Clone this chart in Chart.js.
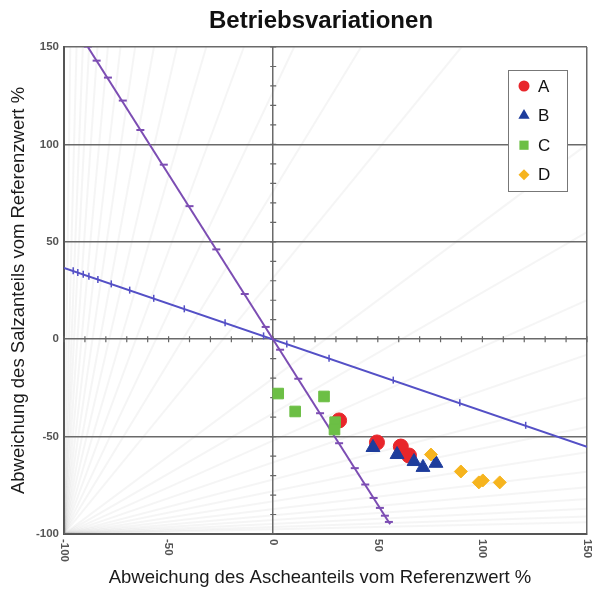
<!DOCTYPE html>
<html>
<head>
<meta charset="utf-8">
<title>Betriebsvariationen</title>
<script src="https://cdn.jsdelivr.net/npm/chart.js@4/dist/chart.umd.min.js"></script>
<style>
  html, body { margin: 0; padding: 0; background: #fff; }
  #wrap { width: 596px; height: 591px; }
</style>
</head>
<body>
<div id="wrap"><canvas id="chart" width="596" height="591"></canvas></div>
<script>
/* Betriebsvariationen - scatter with reference lines */

// series (x = Ascheanteil %, y = Salzanteil %)
const seriesA = [[31.5, -41.7], [49.6, -53.0], [61.0, -55.1], [64.9, -59.7]];
const seriesB = [[47.7, -55.6], [59.2, -59.2], [67.3, -62.8], [71.6, -65.8], [77.8, -63.7]];
const seriesC = [[2.4, -27.9], [24.3, -29.4], [10.5, -37.1], [29.6, -42.6], [29.3, -46.4]];
const seriesD = [[75.4, -59.2], [89.7, -67.9], [98.3, -73.5], [100.2, -72.5], [108.3, -73.5]];

// steep reference line (ends + tick marks)
const steepEnds = [[-88.6, 150], [55.9, -95]];
const steepTicks = [[-88.6, 150.2], [-84.4, 143.0], [-79.0, 134.3], [-71.9, 122.5], [-63.5, 107.4],
  [-52.3, 89.6], [-40.0, 68.3], [-27.2, 46.1], [-13.6, 23.2], [-3.6, 6.3], [3.3, -5.4],
  [12.0, -20.3], [22.4, -38.0], [31.5, -53.4], [39.0, -66.2], [44.0, -74.6], [48.0, -81.5],
  [51.0, -86.6], [53.4, -90.6], [55.3, -93.8]];

// flat reference line (ends + tick marks)
const flatEnds = [[-100, 36.6], [150, -55.2]];
const flatTicks = [[-95.6, 35.1], [-93.4, 34.3], [-90.8, 33.3], [-88.1, 32.3], [-83.8, 30.7],
  [-77.4, 28.4], [-68.6, 25.2], [-57.1, 21.0], [-42.5, 15.6], [-23.0, 8.5], [-4.6, 1.7],
  [6.5, -2.4], [26.7, -9.8], [57.4, -21.0], [89.2, -32.6], [120.7, -44.2]];

// faint background fan from the lower left corner
const fanOrigin = [-100, -100];
const fanTopX = [-97, -94, -91, -88, -84, -79, -73, -66, -57, -46, -32, -14, 10, 42, 90];
const fanRightY = [100, 55, 20, -8, -30, -45, -58, -68, -76, -82, -87, -91, -94];

const axisTickValues = [-100, -90, -80, -70, -60, -50, -40, -30, -20, -10, 0, 10, 20, 30, 40, 50, 60, 70, 80, 90, 100, 110, 120, 130, 140, 150];
const xTickLabels = [-100, -50, 0, 50, 100, 150];

const FONT = '"Liberation Sans", Arial, sans-serif';
const legendItems = [
    { label: 'A', color: '#e8262b', style: 'circle', r: 5.5 },
    { label: 'B', color: '#1e3d9c', style: 'triangle', r: 6.5 },
    { label: 'C', color: '#6cbf45', style: 'rect', r: 6.5 },
    { label: 'D', color: '#f6b41e', style: 'rectRot', r: 5.5 }
];

const pts = arr => arr.map(p => ({ x: p[0], y: p[1] }));

const fanSets = [];
fanTopX.forEach(x => fanSets.push([fanOrigin, [x, 150]]));
fanRightY.forEach(y => fanSets.push([fanOrigin, [150, y]]));

const datasets = [
    { label: 'A', data: pts(seriesA), backgroundColor: '#e8262b', borderColor: '#e8262b', pointStyle: 'circle', pointRadius: 7.5, order: 4 },
    { label: 'B', data: pts(seriesB), backgroundColor: '#1e3d9c', borderColor: '#1e3d9c', pointStyle: 'triangle', pointRadius: 8, order: 3 },
    { label: 'C', data: pts(seriesC), backgroundColor: '#6cbf45', borderColor: '#6cbf45', pointStyle: 'rect', pointRadius: 7.5, order: 2 },
    { label: 'D', data: pts(seriesD), backgroundColor: '#f6b41e', borderColor: '#f6b41e', pointStyle: 'rectRot', pointRadius: 6.5, order: 1 },
    { label: 'steep', data: pts(steepEnds), showLine: true, borderColor: '#7c4db3', borderWidth: 2, pointRadius: 0, order: 20 },
    { label: 'steepTicks', data: pts(steepTicks), borderColor: '#7c4db3', backgroundColor: '#7c4db3', pointStyle: 'line', pointRadius: 4, pointBorderWidth: 2, order: 19 },
    { label: 'flat', data: pts(flatEnds), showLine: true, borderColor: '#5450c6', borderWidth: 2, pointRadius: 0, order: 20 },
    { label: 'flatTicks', data: pts(flatTicks), borderColor: '#5450c6', backgroundColor: '#5450c6', pointStyle: 'line', rotation: 90, pointRadius: 3.5, pointBorderWidth: 1.5, order: 19 }
];
fanSets.forEach((f, i) => datasets.push({
    label: 'fan' + i, data: pts(f), showLine: true, borderColor: 'rgba(120,120,120,0.07)', borderWidth: 2, pointRadius: 0, order: 50
}));

// crossing tick marks on the zero axes, rotated x labels, titles and legend
const decor = {
    id: 'decor',
    beforeDatasetsDraw(chart) {
        const { ctx, scales: { x, y } } = chart;
        const x0 = x.getPixelForValue(0), y0 = y.getPixelForValue(0);
        ctx.save();
        ctx.strokeStyle = '#666';
        ctx.lineWidth = 1.2;
        ctx.beginPath();
        axisTickValues.forEach(v => {
            const px = x.getPixelForValue(v), py = y.getPixelForValue(v);
            ctx.moveTo(px, y0 - 3); ctx.lineTo(px, y0 + 3);
            ctx.moveTo(x0 - 3, py); ctx.lineTo(x0 + 3, py);
        });
        ctx.stroke();
        ctx.restore();
    },
    afterDraw(chart) {
        const { ctx, scales: { x }, chartArea } = chart;
        ctx.save();
        // title
        ctx.fillStyle = '#111';
        ctx.font = 'bold 24px ' + FONT;
        ctx.textAlign = 'center';
        ctx.textBaseline = 'middle';
        ctx.fillText('Betriebsvariationen', 321, 21);

        // x axis title
        ctx.fillStyle = '#1a1a1a';
        ctx.font = '18.5px ' + FONT;
        ctx.fillText('Abweichung des Ascheanteils vom Referenzwert %', 320, 578);

        // x tick labels, turned clockwise
        ctx.fillStyle = '#555';
        ctx.font = 'bold 11.5px ' + FONT;
        xTickLabels.forEach(v => {
            ctx.save();
            ctx.translate(x.getPixelForValue(v), chartArea.bottom + 5);
            ctx.rotate(Math.PI / 2);
            ctx.textAlign = 'left';
            ctx.textBaseline = 'middle';
            ctx.fillText(String(v), 0, 0);
            ctx.restore();
        });

        // legend
        const lx = 508, ly = 70, lw = 59, lh = 121;
        ctx.fillStyle = '#fff';
        ctx.fillRect(lx, ly, lw, lh);
        ctx.strokeStyle = '#777';
        ctx.lineWidth = 1;
        ctx.strokeRect(lx + 0.5, ly + 0.5, lw, lh);
        ctx.font = '17px ' + FONT;
        ctx.textAlign = 'left';
        ctx.textBaseline = 'middle';
        legendItems.forEach((it, i) => {
            const cy = ly + 16 + i * 29.6;
            ctx.fillStyle = it.color;
            ctx.strokeStyle = it.color;
            Chart.helpers.drawPoint(ctx, { pointStyle: it.style, radius: it.r, rotation: 0, borderWidth: 0 }, lx + 16, cy);
            ctx.fillStyle = '#111';
            ctx.fillText(it.label, lx + 30, cy + 1);
        });
        ctx.restore();
    }
};

new Chart(document.getElementById('chart'), {
    type: 'scatter',
    data: { datasets },
    options: {
        responsive: false,
        animation: false,
        layout: { padding: { top: 47, right: 8, left: 0, bottom: 0 } },
        plugins: { legend: { display: false }, tooltip: { enabled: false }, title: { display: false } },
        scales: {
            x: {
                type: 'linear', min: -100, max: 150,
                ticks: { display: false, stepSize: 50 },
                grid: {
                    drawTicks: false, lineWidth: 1.5,
                    color: c => (c.tick && [-100, 0, 150].includes(c.tick.value)) ? '#6a6a6a' : 'transparent'
                },
                border: { display: true, color: '#555', width: 2 },
                title: { display: false },
                afterFit: s => { s.height = 57; }
            },
            y: {
                type: 'linear', min: -100, max: 150,
                ticks: { stepSize: 50, color: '#555', font: { family: FONT, size: 11.5, weight: 'bold' }, padding: 5 },
                grid: { drawTicks: false, lineWidth: 1.5, color: '#6a6a6a' },
                border: { display: true, color: '#555', width: 2 },
                title: { display: true, text: 'Abweichung des Salzanteils vom Referenzwert %', color: '#1a1a1a', font: { family: FONT, size: 18.5 }, padding: { top: 8, bottom: 0 } },
                afterFit: s => { s.width = 64; }
            }
        }
    },
    plugins: [decor]
});
</script>
</body>
</html>
